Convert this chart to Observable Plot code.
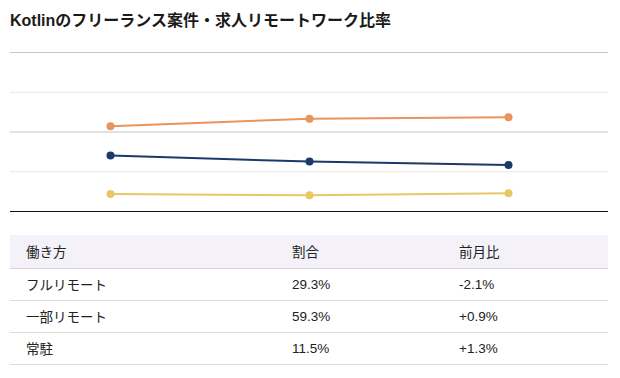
<!DOCTYPE html>
<html>
<head>
<meta charset="utf-8">
<script src="https://cdn.jsdelivr.net/npm/d3@7"></script>
<script src="https://cdn.jsdelivr.net/npm/@observablehq/plot@0.6"></script>
<style>
  html, body { margin: 0; padding: 0; background: #fff; }
  body { width: 620px; font-family: "Liberation Sans", "Noto Sans CJK JP", sans-serif; color: #222; }
  #title { height: 40px; box-sizing: border-box; padding: 11px 0 0 10px; font-size: 16px; font-weight: bold; line-height: 20px; color: #1a1a1a; }
  #chart { height: 185px; }
  #chart svg { display: block; }
  table { border-collapse: collapse; margin: 10px 0 0 10px; width: 598px; font-size: 13.5px; table-layout: fixed; }
  th, td { text-align: left; font-weight: normal; padding: 0 0 0 16px; color: #222; }
  thead tr { background: #f4f2f8; height: 33px; border-bottom: 1px solid #d6d4da; }
  tbody tr { height: 32px; border-bottom: 1px solid #dcdcdc; }
</style>
</head>
<body>
<div id="title">Kotlinのフリーランス案件・求人リモートワーク比率</div>
<div id="chart"></div>
<table id="tbl"></table>
<script>
const months = ["4月", "5月", "6月"];
const seriesNames = ["フルリモート", "一部リモート", "常駐"];
const fullRemote = [35.2, 31.4, 29.3];
const partRemote = [53.6, 58.4, 59.3];
const onSite = [11.0, 10.2, 11.5];
const seriesColors = ["#1b3a6b", "#e8945a", "#e8c862"];
const latestShare = ["29.3%", "59.3%", "11.5%"];
const monthChange = ["-2.1%", "+0.9%", "+1.3%"];
const headers = ["働き方", "割合", "前月比"];
const majorTicks = [50, 100];
const minorTicks = [25, 75];

const values = [fullRemote, partRemote, onSite];
const data = [];
seriesNames.forEach((s, i) => months.forEach((m, j) => data.push({series: s, month: m, value: values[i][j]})));

const plot = Plot.plot({
  width: 620,
  height: 185,
  marginLeft: 10,
  marginRight: 12,
  marginTop: 12,
  marginBottom: 14,
  x: {type: "point", domain: months, padding: 0.5, axis: null},
  y: {domain: [0, 100], axis: null},
  color: {domain: seriesNames, range: seriesColors},
  marks: [
    Plot.ruleY(minorTicks, {stroke: "#e6e6e6", strokeWidth: 1}),
    Plot.ruleY(majorTicks, {stroke: "#c4c4c4", strokeWidth: 1}),
    Plot.lineY(data, {x: "month", y: "value", z: "series", stroke: "series", strokeWidth: 2}),
    Plot.dot(data, {x: "month", y: "value", fill: "series", r: 4}),
    Plot.ruleY([0], {stroke: "#111", strokeWidth: 1.2})
  ]
});
document.getElementById("chart").appendChild(plot);

const tbl = document.getElementById("tbl");
const colWidths = ["266px", "167px", "165px"];
let html = "<colgroup>" + colWidths.map(w => `<col style="width:${w}">`).join("") + "</colgroup>";
html += "<thead><tr>" + headers.map(h => `<th>${h}</th>`).join("") + "</tr></thead><tbody>";
seriesNames.forEach((s, i) => {
  html += `<tr><td>${s}</td><td>${latestShare[i]}</td><td>${monthChange[i]}</td></tr>`;
});
html += "</tbody>";
tbl.innerHTML = html;
</script>
</body>
</html>
